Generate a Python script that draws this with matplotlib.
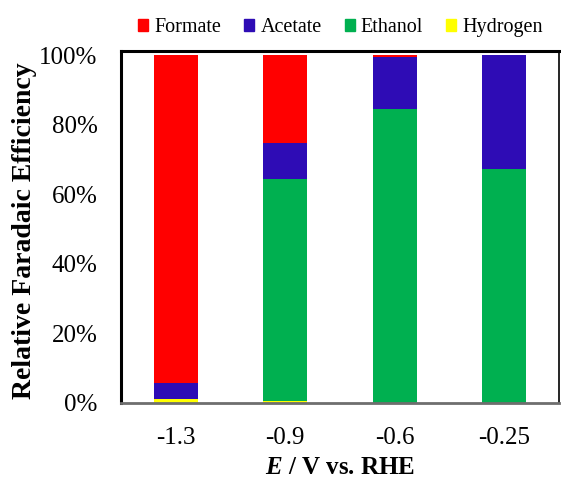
import matplotlib
matplotlib.use("Agg")
import matplotlib.pyplot as plt
from matplotlib.patches import Patch
from matplotlib.ticker import FuncFormatter
import numpy as np

plt.rcParams['font.family'] = ['Liberation Serif', 'DejaVu Serif']
plt.rcParams['mathtext.fontset'] = 'custom'
plt.rcParams['mathtext.bfit'] = 'Liberation Serif:italic:bold'
plt.rcParams['mathtext.rm'] = 'Liberation Serif'

# Potentials (V vs. RHE) and relative Faradaic efficiencies (fractions)
potentials = ['-1.3', '-0.9', '-0.6', '-0.25']
hydrogen = [0.012, 0.005, 0.0, 0.0]
ethanol = [0.0, 0.638, 0.844, 0.671]
acetate = [0.046, 0.105, 0.151, 0.329]
formate = [0.942, 0.252, 0.005, 0.0]

series = [
    ('Hydrogen', hydrogen, '#FFFF00'),
    ('Ethanol', ethanol, '#00B050'),
    ('Acetate', acetate, '#2E0CB5'),
    ('Formate', formate, '#FF0000'),
]

fig = plt.figure(figsize=(5.61, 4.79), dpi=100)
ax = fig.add_axes([0.2157, 0.1587, 0.7807, 0.7348])

x = np.arange(len(potentials))
bottom = np.zeros(len(potentials))
for name, vals, col in series:
    vals = np.array(vals)
    ax.bar(x, vals, width=0.4, bottom=bottom, color=col, label=name, zorder=2)
    bottom += vals

ax.set_xlim(-0.5, len(potentials) - 0.5)
ax.set_ylim(0, 1.0115)
ax.set_yticks(np.arange(0, 1.01, 0.2))
ax.yaxis.set_major_formatter(FuncFormatter(lambda v, p: f'{v*100:.0f}%'))
ax.set_xticks(x)
ax.set_xticklabels(potentials)
ax.tick_params(axis='both', length=0, labelsize=18)
ax.tick_params(axis='y', pad=17)
ax.tick_params(axis='x', pad=17)

for side in ['left', 'top']:
    ax.spines[side].set_linewidth(2.2)
    ax.spines[side].set_color('black')
ax.spines['right'].set_linewidth(1.2)
ax.spines['right'].set_color('black')
ax.spines['bottom'].set_linewidth(2.0)
ax.spines['bottom'].set_color('#6e6e6e')

ax.set_ylabel('Relative Faradaic Efficiency', fontsize=20, fontweight='bold', va='center')
ax.yaxis.set_label_coords(-0.221, 0.489)
ax.set_xlabel(r'$\mathbfit{E}$ / V vs. RHE', fontsize=18, fontweight='bold')
ax.xaxis.set_label_coords(0.5, -0.15)

handles = [Patch(color=c, label=n) for n, _, c in [series[3], series[2], series[1], series[0]]]
fig.legend(handles=handles, loc='center', bbox_to_anchor=(0.607, 0.942), ncol=4,
           frameon=False, fontsize=14.5, handlelength=0.5, handleheight=0.5,
           handletextpad=0.3, columnspacing=1.15, borderpad=0)

fig.savefig('out.png', dpi=100)
